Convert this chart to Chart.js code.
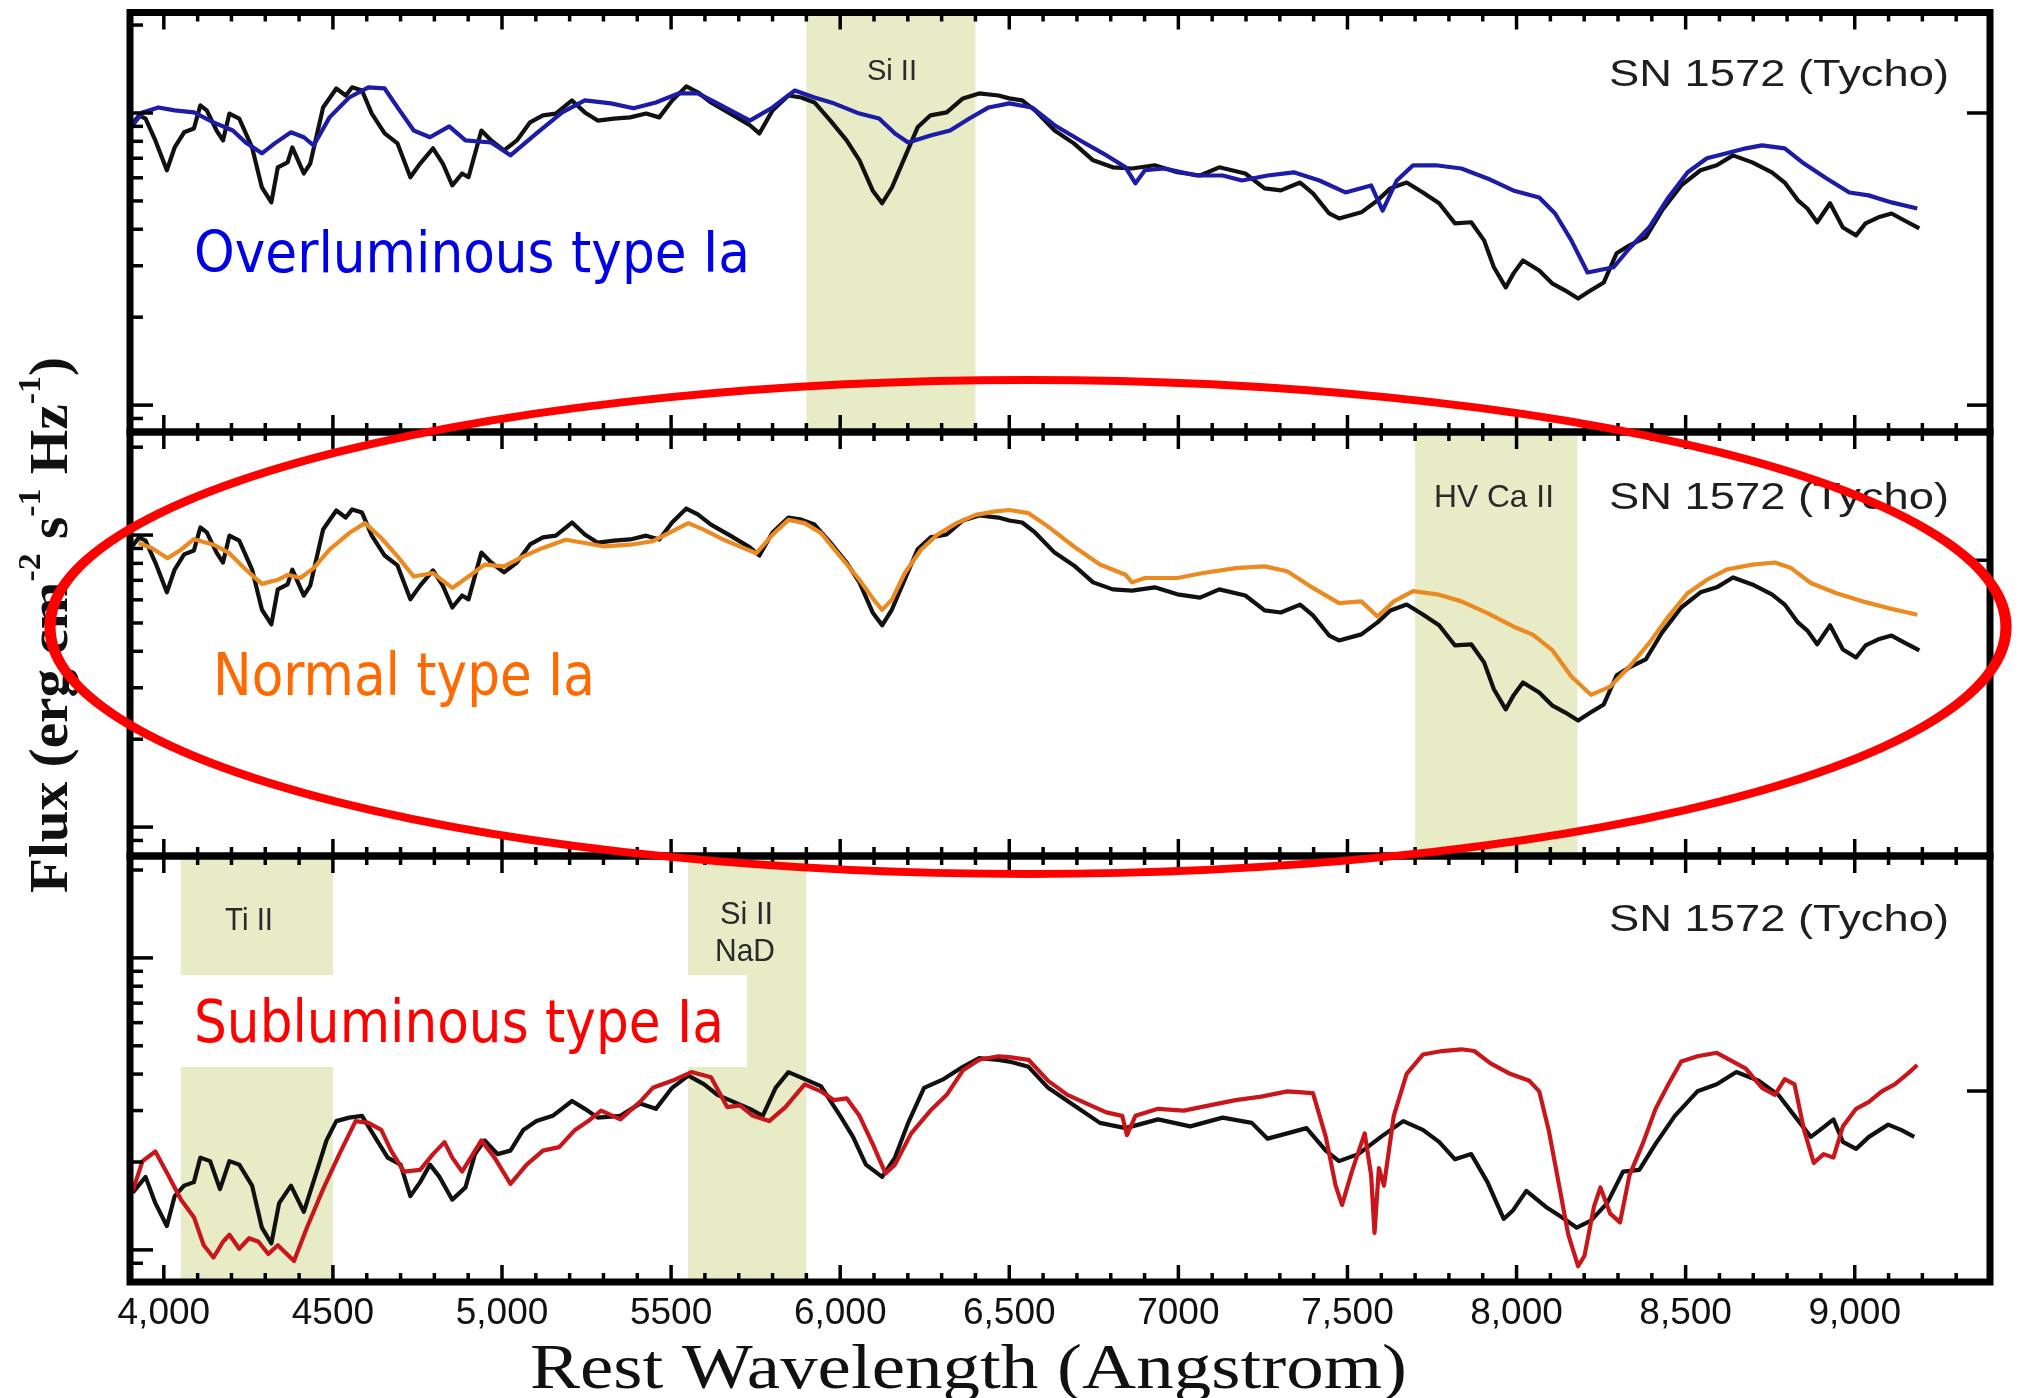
<!DOCTYPE html>
<html><head><meta charset="utf-8">
<script src="https://cdn.jsdelivr.net/npm/chart.js@4.4.1/dist/chart.umd.min.js"></script>
<style>html,body{margin:0;padding:0;background:#fff;}canvas{display:block;}</style>
</head><body>
<canvas id="c" width="2028" height="1398"></canvas>
<script>
// ---------------- DATA (flux given as log10 of flux, wavelengths in Angstrom) ----------------
const tychoWave = [3908,3927,3946,3975,4009,4032,4060,4089,4108,4127,4156,4175,4194,4223,4261,4290,4318,4337,4366,4380,4414,4433,4471,4510,4538,4557,4586,4615,4653,4691,4729,4758,4796,4825,4853,4882,4901,4939,4968,5006,5044,5083,5121,5159,5207,5245,5283,5331,5379,5426,5465,5503,5545,5579,5618,5675,5733,5761,5800,5847,5885,5924,5971,6019,6057,6096,6124,6153,6191,6229,6267,6315,6363,6411,6468,6500,6538,6576,6634,6691,6748,6806,6863,6930,6997,7064,7121,7198,7255,7303,7360,7398,7446,7475,7541,7589,7627,7675,7723,7771,7818,7866,7904,7933,7968,7991,8019,8067,8105,8143,8182,8220,8258,8296,8334,8382,8430,8487,8544,8592,8640,8697,8755,8793,8832,8860,8889,8927,8965,9004,9032,9070,9109,9147,9191];
const tychoFlux = [0.964,0.992,0.981,0.906,0.804,0.882,0.934,0.947,1.026,1.009,0.940,0.906,0.998,0.981,0.882,0.745,0.694,0.814,0.831,0.882,0.793,0.827,1.019,1.084,1.060,1.088,1.077,0.998,0.930,0.896,0.780,0.827,0.879,0.827,0.752,0.793,0.780,0.940,0.906,0.872,0.906,0.968,0.992,0.998,1.043,1.002,0.974,0.981,0.985,0.998,0.985,1.043,1.091,1.071,1.036,0.998,0.958,0.930,1.009,1.060,1.053,1.036,0.974,0.906,0.838,0.735,0.691,0.745,0.848,0.951,0.992,1.002,1.050,1.067,1.060,1.050,1.043,1.009,0.940,0.896,0.838,0.814,0.810,0.821,0.797,0.786,0.814,0.793,0.742,0.735,0.762,0.725,0.656,0.639,0.660,0.701,0.742,0.762,0.728,0.691,0.622,0.626,0.564,0.472,0.403,0.451,0.495,0.461,0.417,0.393,0.365,0.393,0.420,0.520,0.547,0.574,0.666,0.752,0.804,0.821,0.855,0.831,0.797,0.762,0.701,0.673,0.626,0.691,0.608,0.581,0.622,0.643,0.656,0.632,0.605];

const overWave = [3908,3937,3984,4032,4089,4147,4204,4242,4290,4328,4376,4414,4443,4490,4548,4605,4653,4691,4739,4787,4844,4892,4968,5025,5102,5178,5245,5322,5389,5455,5522,5579,5637,5733,5800,5866,5924,5981,6057,6115,6162,6201,6267,6325,6382,6439,6500,6567,6634,6710,6777,6844,6873,6901,6959,7054,7131,7188,7264,7341,7417,7494,7570,7604,7646,7694,7761,7837,7914,7990,8067,8114,8162,8210,8287,8334,8392,8449,8506,8563,8621,8678,8726,8793,8850,8917,8984,9041,9109,9185];
const overFlux = [0.958,1.002,1.019,1.009,1.002,0.968,0.940,0.899,0.862,0.896,0.934,0.917,0.889,0.985,1.053,1.088,1.084,1.019,0.940,0.917,0.954,0.906,0.899,0.855,0.930,1.002,1.043,1.033,1.016,1.036,1.067,1.067,1.033,0.974,1.019,1.077,1.053,1.033,0.998,0.981,0.930,0.899,0.923,0.940,0.981,1.019,1.033,1.019,0.958,0.906,0.862,0.814,0.759,0.804,0.810,0.786,0.786,0.769,0.786,0.797,0.769,0.728,0.752,0.666,0.769,0.821,0.821,0.810,0.776,0.735,0.711,0.656,0.564,0.454,0.472,0.537,0.608,0.711,0.797,0.845,0.862,0.879,0.889,0.879,0.827,0.776,0.728,0.718,0.694,0.673];

const normWave = [3925,3964,4011,4051,4089,4147,4194,4242,4290,4337,4366,4404,4443,4490,4548,4595,4643,4691,4739,4796,4853,4901,4949,5006,5063,5121,5188,5245,5302,5379,5446,5503,5551,5598,5656,5713,5752,5800,5847,5895,5943,6000,6057,6099,6124,6153,6191,6239,6287,6344,6401,6459,6500,6557,6615,6691,6768,6844,6863,6901,6997,7073,7169,7255,7322,7398,7475,7541,7589,7637,7694,7771,7837,7914,7990,8048,8105,8162,8220,8277,8334,8392,8449,8506,8563,8621,8697,8764,8812,8870,8946,9023,9099,9185];
const normFlux = [0.973,0.956,0.921,0.950,0.986,0.967,0.938,0.882,0.833,0.847,0.864,0.853,0.887,0.950,1.007,1.041,0.990,0.927,0.858,0.870,0.819,0.858,0.899,0.893,0.927,0.956,0.984,0.973,0.961,0.967,0.979,1.013,1.041,1.018,0.984,0.956,0.938,1.001,1.052,1.041,1.007,0.927,0.847,0.779,0.744,0.779,0.870,0.950,1.001,1.041,1.069,1.081,1.086,1.075,1.029,0.961,0.899,0.864,0.838,0.853,0.853,0.870,0.887,0.893,0.876,0.819,0.767,0.773,0.721,0.773,0.808,0.796,0.773,0.733,0.687,0.659,0.607,0.516,0.453,0.481,0.550,0.630,0.721,0.801,0.847,0.882,0.899,0.906,0.887,0.836,0.801,0.773,0.750,0.727];

const tychoWaveB = [3908,3946,3975,4009,4032,4060,4089,4108,4137,4166,4194,4223,4261,4290,4318,4341,4376,4414,4452,4481,4510,4548,4586,4624,4662,4700,4729,4758,4787,4815,4853,4892,4920,4949,4987,5025,5063,5102,5150,5207,5245,5283,5350,5408,5455,5503,5551,5598,5637,5685,5733,5771,5809,5847,5895,5943,6000,6038,6076,6124,6162,6201,6248,6306,6363,6411,6468,6500,6557,6615,6691,6768,6844,6940,7035,7131,7217,7264,7322,7379,7436,7475,7532,7599,7665,7723,7771,7818,7866,7914,7962,7990,8029,8086,8134,8178,8220,8268,8315,8363,8411,8468,8535,8592,8650,8716,8774,8822,8870,8898,8937,8965,9004,9042,9099,9137,9176];
const tychoFluxB = [0.196,0.250,0.160,0.082,0.184,0.220,0.232,0.316,0.304,0.208,0.304,0.292,0.220,0.076,0.022,0.160,0.220,0.130,0.268,0.375,0.441,0.453,0.459,0.387,0.316,0.292,0.184,0.232,0.292,0.250,0.172,0.214,0.328,0.375,0.328,0.340,0.411,0.441,0.459,0.510,0.483,0.453,0.459,0.501,0.483,0.555,0.597,0.567,0.531,0.507,0.483,0.459,0.555,0.609,0.585,0.561,0.459,0.387,0.292,0.250,0.316,0.435,0.555,0.585,0.627,0.657,0.651,0.645,0.627,0.555,0.495,0.435,0.417,0.447,0.423,0.453,0.435,0.381,0.399,0.417,0.340,0.304,0.328,0.387,0.441,0.411,0.370,0.310,0.328,0.232,0.106,0.136,0.202,0.148,0.112,0.076,0.100,0.160,0.268,0.274,0.363,0.459,0.543,0.567,0.609,0.579,0.531,0.459,0.387,0.411,0.447,0.370,0.346,0.387,0.429,0.411,0.387];

const subWave = [3908,3937,3975,4013,4051,4089,4118,4147,4175,4194,4223,4252,4280,4309,4337,4385,4423,4471,4519,4567,4605,4643,4672,4710,4758,4796,4830,4853,4882,4939,4978,5025,5073,5121,5169,5216,5255,5293,5350,5408,5446,5503,5560,5618,5666,5704,5742,5790,5838,5895,5943,5981,6019,6057,6096,6134,6162,6210,6267,6315,6363,6411,6468,6500,6557,6615,6672,6729,6787,6834,6848,6873,6940,7016,7092,7169,7245,7322,7398,7436,7465,7484,7513,7551,7570,7580,7593,7608,7637,7675,7723,7780,7837,7875,7923,7981,8038,8067,8095,8124,8153,8182,8201,8229,8248,8277,8306,8334,8373,8411,8449,8487,8535,8592,8640,8678,8726,8764,8793,8822,8850,8879,8908,8937,8965,9004,9042,9080,9118,9156,9185];
const subFlux = [0.202,0.304,0.337,0.256,0.172,0.112,0.016,-0.026,0.028,0.052,0.004,0.040,0.028,-0.014,0.016,-0.038,0.076,0.208,0.328,0.441,0.435,0.411,0.340,0.268,0.274,0.328,0.369,0.316,0.268,0.375,0.316,0.226,0.292,0.340,0.352,0.411,0.441,0.477,0.447,0.507,0.555,0.579,0.609,0.591,0.489,0.495,0.459,0.441,0.489,0.567,0.543,0.513,0.519,0.459,0.363,0.262,0.292,0.399,0.477,0.531,0.615,0.651,0.663,0.660,0.651,0.579,0.531,0.501,0.471,0.459,0.393,0.459,0.483,0.477,0.495,0.513,0.525,0.543,0.537,0.387,0.220,0.154,0.268,0.399,0.256,0.058,0.280,0.220,0.459,0.603,0.669,0.681,0.687,0.681,0.639,0.603,0.579,0.543,0.411,0.232,0.052,-0.056,-0.020,0.148,0.214,0.124,0.094,0.256,0.363,0.483,0.567,0.645,0.663,0.675,0.645,0.621,0.555,0.531,0.585,0.567,0.411,0.298,0.328,0.316,0.423,0.483,0.507,0.543,0.567,0.603,0.633];

// axis ticks
const xMajorTicks = [4000,4500,5000,5500,6000,6500,7000,7500,8000,8500,9000];
const xTickLabels = ['4,000','4500','5,000','5500','6,000','6,500','7000','7,500','8,000','8,500','9,000'];
const xMinorTicks = [3900,4100,4200,4300,4400,4600,4700,4800,4900,5100,5200,5300,5400,5600,5700,5800,5900,6100,6200,6300,6400,6600,6700,6800,6900,7100,7200,7300,7400,7600,7700,7800,7900,8100,8200,8300,8400,8600,8700,8800,8900,9100,9200,9300];
const yMajorTickFlux = [1,10];
const yMinorTickFlux = [0.9,2,3,4,5,6,7,8,9,20];
const rightTickFlux = {yTop:[1,10], yMid:[8.2], yBot:[3.5]};

// shaded line-identification bands
const bandPanels = ['yTop','yMid','yBot','yBot'];
const bandFrom = [5900,7700,4050,5550];
const bandTo = [6400,8180,4500,5900];
const bandLabels = [['Si II'],['HV Ca II'],['Ti II'],['Si II','NaD']];
const panelLabel = 'SN 1572 (Tycho)';
const typeLabels = ['Overluminous type Ia','Normal type Ia','Subluminous type Ia'];

// ---------------- CHART ----------------
const pts = (w, f) => w.map((x, i) => ({x, y: f[i]}));
const BAND_COLOR = '#e7ecc7';

function fitText(ctx, text, x0, x1, baseline, capH, family, weight, color, capRatio) {
  const size = capH / capRatio;
  ctx.save();
  ctx.font = weight + ' ' + size + 'px ' + family;
  ctx.fillStyle = color;
  ctx.textBaseline = 'alphabetic';
  ctx.textAlign = 'left';
  const w = ctx.measureText(text).width;
  ctx.translate(x0, baseline);
  ctx.scale((x1 - x0) / w, 1);
  ctx.fillText(text, 0, 0);
  ctx.restore();
}
function seg(ctx, x1, y1, x2, y2) { ctx.beginPath(); ctx.moveTo(x1, y1); ctx.lineTo(x2, y2); ctx.stroke(); }

const bandPlugin = {
  id: 'bands',
  beforeDatasetsDraw(chart) {
    const ctx = chart.ctx, xs = chart.scales.x;
    ctx.save();
    bandPanels.forEach((p, i) => {
      const ys = chart.scales[p];
      const a = xs.getPixelForValue(bandFrom[i]), b = xs.getPixelForValue(bandTo[i]);
      ctx.fillStyle = BAND_COLOR;
      ctx.fillRect(a, ys.top, b - a, ys.bottom - ys.top);
    });
    ctx.restore();
    const SANS = '"Liberation Sans", Arial, sans-serif';
    fitText(ctx, bandLabels[0][0], 867, 917, 80, 21, SANS, 'normal', '#2a2a2a', 0.716);
    fitText(ctx, bandLabels[1][0], 1434, 1554, 507, 23, SANS, 'normal', '#2a2a2a', 0.716);
    fitText(ctx, bandLabels[2][0], 225, 273, 930, 23, SANS, 'normal', '#2a2a2a', 0.716);
    fitText(ctx, bandLabels[3][0], 720, 773, 924, 22, SANS, 'normal', '#2a2a2a', 0.716);
    fitText(ctx, bandLabels[3][1], 715, 775, 961, 22, SANS, 'normal', '#2a2a2a', 0.716);
  }
};

const framePlugin = {
  id: 'frame',
  afterDatasetsDraw(chart) {
    const ctx = chart.ctx, xs = chart.scales.x;
    const L = xs.left, R = xs.right;
    ctx.save();
    ctx.strokeStyle = '#000';
    ctx.lineCap = 'butt';
    ['yTop','yMid','yBot'].forEach(k => {
      const ys = chart.scales[k];
      ctx.lineWidth = 3.5;
      xMajorTicks.forEach(v => { const p = xs.getPixelForValue(v); seg(ctx, p, ys.top, p, ys.top + 17); seg(ctx, p, ys.bottom, p, ys.bottom - 17); });
      xMinorTicks.forEach(v => { const p = xs.getPixelForValue(v); seg(ctx, p, ys.top, p, ys.top + 9); seg(ctx, p, ys.bottom, p, ys.bottom - 9); });
      yMajorTickFlux.forEach(f => { const p = ys.getPixelForValue(Math.log10(f)); if (p > ys.top + 4 && p < ys.bottom - 4) seg(ctx, L, p, L + 23, p); });
      yMinorTickFlux.forEach(f => { const p = ys.getPixelForValue(Math.log10(f)); if (p > ys.top + 4 && p < ys.bottom - 4) seg(ctx, L, p, L + 13, p); });
      rightTickFlux[k].forEach(f => { const p = ys.getPixelForValue(Math.log10(f)); seg(ctx, R, p, R - 23, p); });
      ctx.lineWidth = 7;
      ctx.strokeRect(L, ys.top, R - L, ys.bottom - ys.top);
    });
    ctx.restore();

    const SANS = '"Liberation Sans", Arial, sans-serif';
    const TYPE = '"DejaVu Sans", Verdana, sans-serif';
    [86, 509, 931].forEach(b => fitText(ctx, panelLabel, 1609, 1949, b, 26, SANS, 'normal', '#1e1e1e', 0.716));
    fitText(ctx, typeLabels[0], 194, 750, 272, 42, TYPE, 'normal', '#0000e6', 0.729);
    fitText(ctx, typeLabels[1], 213, 595, 695, 43, TYPE, 'normal', '#ff6a00', 0.729);
    ctx.save(); ctx.fillStyle = '#fff'; ctx.fillRect(171, 975, 576, 92); ctx.restore();
    fitText(ctx, typeLabels[2], 194, 724, 1042, 43, TYPE, 'normal', '#ff0000', 0.729);

    // x axis title
    const SERIF = '"Liberation Serif", "Times New Roman", serif';
    fitText(ctx, 'Rest Wavelength (Angstrom)', 530, 1407, 1388, 42, SERIF, 'normal', '#111', 0.662);

    // y axis title (rotated, with superscripts)
    const parts = [['Flux (erg cm',0],['-2',1],[' s',0],['-1',1],[' Hz',0],['-1',1],[')',0]];
    ctx.save();
    ctx.fillStyle = '#111';
    ctx.textBaseline = 'alphabetic';
    const big = 'bold 54px ' + SERIF, small = 'bold 32px ' + SERIF;
    let total = 0;
    parts.forEach(([t, s]) => { ctx.font = s ? small : big; total += ctx.measureText(t).width; });
    ctx.translate(67, 893);
    ctx.rotate(-Math.PI / 2);
    ctx.scale(536 / total, 1);
    let x = 0;
    parts.forEach(([t, s]) => { ctx.font = s ? small : big; ctx.fillText(t, x, s ? -27 : 0); x += ctx.measureText(t).width; });
    ctx.restore();
  },
  afterDraw(chart) {
    const ctx = chart.ctx;
    ctx.save();
    ctx.translate(1028, 627);
    ctx.scale(1.4, 1);
    ctx.beginPath();
    ctx.ellipse(0, 0, 978 / 1.4, 247, 0, 0, Math.PI * 2);
    ctx.lineWidth = 8;
    ctx.strokeStyle = '#ff0000';
    ctx.stroke();
    ctx.restore();
  }
};

const lineDs = (label, data, axis, color, order) => ({label, data, yAxisID: axis, borderColor: color, borderWidth: 4.2, pointRadius: 0, tension: 0, fill: false, order, borderJoinStyle: 'round'});
const yAxis = (weight, min, max) => ({type: 'linear', position: 'right', stack: 'panels', stackWeight: weight, min, max, display: false});

new Chart(document.getElementById('c'), {
  type: 'line',
  data: {
    datasets: [
      lineDs('Overluminous type Ia', pts(overWave, overFlux), 'yTop', '#1c1ca6', 1),
      lineDs('SN 1572 (Tycho)', pts(tychoWave, tychoFlux), 'yTop', '#111111', 2),
      lineDs('Normal type Ia', pts(normWave, normFlux), 'yMid', '#ec8a22', 1),
      lineDs('SN 1572 (Tycho)', pts(tychoWave, tychoFlux), 'yMid', '#111111', 2),
      lineDs('Subluminous type Ia', pts(subWave, subFlux), 'yBot', '#c8161b', 1),
      lineDs('SN 1572 (Tycho)', pts(tychoWaveB, tychoFluxB), 'yBot', '#111111', 2)
    ]
  },
  options: {
    responsive: false,
    animation: false,
    devicePixelRatio: 1,
    layout: {padding: {left: 130, right: 38, top: 12.5, bottom: 0}},
    plugins: {legend: {display: false}, tooltip: {enabled: false}},
    scales: {
      x: {
        type: 'linear', position: 'bottom', min: 3900, max: 9400,
        grid: {display: false, drawTicks: false},
        border: {display: false},
        afterBuildTicks: s => { s.ticks = xMajorTicks.map(v => ({value: v})); },
        afterFit: s => { s.height = 116; },
        ticks: {
          autoSkip: false, maxRotation: 0, padding: 13, color: '#111',
          font: {size: 37, family: '"Liberation Sans Narrow", "Liberation Sans", Arial, sans-serif', lineHeight: 1},
          callback: v => { const i = xMajorTicks.indexOf(v); return i >= 0 ? xTickLabels[i] : ''; }
        }
      },
      yTop: yAxis(419.5, -0.092, 1.344),
      yMid: yAxis(424, -0.099, 1.353),
      yBot: yAxis(426, -0.110, 1.349)
    }
  },
  plugins: [bandPlugin, framePlugin]
});
</script>
</body></html>
